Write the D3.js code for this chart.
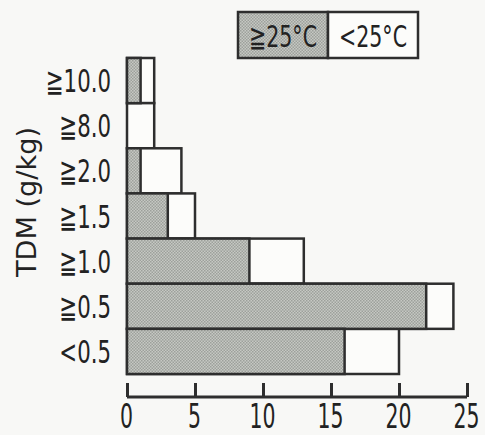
<!DOCTYPE html>
<html>
<head>
<meta charset="utf-8">
<script src="https://cdn.jsdelivr.net/npm/d3@7"></script>
<style>
  body { margin: 0; background: #f8f8f6; }
  text { font-family: "DejaVu Sans Condensed", "DejaVu Sans", sans-serif; fill: #222; }
</style>
</head>
<body>
<div id="chart"></div>
<script>
// categories top to bottom
const categories = ["≧10.0", "≧8.0", "≧2.0", "≧1.5", "≧1.0", "≧0.5", "<0.5"];
const warm = [1, 0, 1, 3, 9, 22, 16];   // ≥25°C
const cool = [1, 2, 3, 2, 4, 2, 4];     // <25°C
const xTicks = [0, 5, 10, 15, 20, 25];
const seriesNames = ["≧25°C", "<25°C"];

const W = 485, H = 435;
const svg = d3.select("#chart").append("svg")
  .attr("width", W).attr("height", H);

// halftone-ish gray fill
const defs = svg.append("defs");
const pat = defs.append("pattern").attr("id", "dots")
  .attr("width", 3).attr("height", 3).attr("patternUnits", "userSpaceOnUse");
pat.append("rect").attr("width", 3).attr("height", 3).attr("fill", "#c6c8c3");
pat.append("rect").attr("width", 1.5).attr("height", 1.5).attr("fill", "#9da09b");
pat.append("rect").attr("x", 1.5).attr("y", 1.5).attr("width", 1.5).attr("height", 1.5).attr("fill", "#9da09b");

const x = d3.scaleLinear().domain([0, 25]).range([127, 467]);
const y = d3.scaleBand().domain(categories).range([58, 374]).padding(0);

const rows = categories.map((c, i) => ({ c, a: warm[i], b: cool[i] }));
const stroke = "#2e2e2e";

let g = svg.append("g");
// white total bar first, then gray part on top
g.selectAll("rect.tot").data(rows).join("rect")
  .attr("class", "tot")
  .attr("x", x(0)).attr("y", d => y(d.c))
  .attr("width", d => x(d.a + d.b) - x(0)).attr("height", y.bandwidth())
  .attr("fill", "#fcfcfa").attr("stroke", stroke).attr("stroke-width", 2.5);
g.selectAll("rect.warm").data(rows.filter(d => d.a > 0)).join("rect")
  .attr("class", "warm")
  .attr("x", x(0)).attr("y", d => y(d.c))
  .attr("width", d => x(d.a) - x(0)).attr("height", y.bandwidth())
  .attr("fill", "url(#dots)").attr("stroke", stroke).attr("stroke-width", 2.5);

// category labels (narrowed like the original typeface)
g.selectAll("text.cat").data(categories).join("text")
  .attr("class", "cat")
  .attr("transform", d => `translate(111,${y(d) + y.bandwidth() / 2}) scale(0.74,1)`)
  .attr("text-anchor", "end").attr("dy", "0.36em")
  .style("font-size", "32px")
  .text(d => d);

// y title
svg.append("text")
  .attr("transform", "translate(36,202) rotate(-90)")
  .attr("text-anchor", "middle")
  .attr("textLength", 150).attr("lengthAdjust", "spacingAndGlyphs")
  .style("font-size", "27px")
  .text("TDM (g/kg)");

// x axis with ticks pointing up
const xAxis = d3.axisBottom(x).tickValues(xTicks).tickSize(-14);
const ax = svg.append("g").attr("transform", "translate(0,397)").call(xAxis);
ax.select(".domain").attr("d", `M${x(0)},0H${x(25)}`).attr("stroke", stroke).attr("stroke-width", 3);
ax.selectAll(".tick line").attr("stroke", stroke).attr("stroke-width", 3);
ax.selectAll(".tick text")
  .attr("x", -1).attr("y", 31).attr("dy", 0)
  .attr("textLength", d => 13 * String(d).length).attr("lengthAdjust", "spacingAndGlyphs")
  .style("font-size", "34px").style("font-family", '"DejaVu Sans Condensed", sans-serif')
  .attr("fill", "#222");

// legend
const lg = svg.append("g");
const lx = [238, 328, 418];
const fills = ["url(#dots)", "#fcfcfa"];
seriesNames.forEach((s, i) => {
  lg.append("rect").attr("x", lx[i]).attr("y", 12)
    .attr("width", lx[i + 1] - lx[i]).attr("height", 46)
    .attr("fill", fills[i]).attr("stroke", stroke).attr("stroke-width", 2.5);
  lg.append("text").attr("x", (lx[i] + lx[i + 1]) / 2).attr("y", 36)
    .attr("dy", "0.36em").attr("text-anchor", "middle")
    .attr("textLength", 68).attr("lengthAdjust", "spacingAndGlyphs")
    .style("font-size", "30px").text(s);
});
</script>
</body>
</html>
